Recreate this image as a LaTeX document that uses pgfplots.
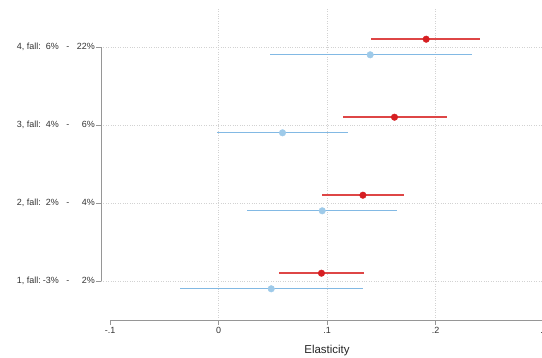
\documentclass[border=0pt]{standalone}
\usepackage{pgfplots}
\pgfplotsset{compat=1.18}
\usepackage{pgfplotstable}
\usepackage{fontspec}
\setmainfont{Liberation Sans}
\definecolor{cred}{RGB}{214,30,34}
\definecolor{credl}{RGB}{222,70,70}
\definecolor{cblue}{RGB}{158,202,233}
\definecolor{cbluel}{RGB}{130,185,228}
\definecolor{axgray}{RGB}{150,150,150}
\definecolor{gridgray}{RGB}{210,210,210}
\pgfplotstableread{
y x lo hi
4.1 0.1914 0.1408 0.2412
3.1 0.1622 0.1143 0.2108
2.1 0.1331 0.0956 0.1711
1.1 0.0949 0.0559 0.1340
}\reddata
\pgfplotstableread{
y x lo hi
3.9 0.1398 0.0473 0.2335
2.9 0.0590 -0.0010 0.1190
1.9 0.0956 0.0267 0.1644
0.9 0.0486 -0.0359 0.1331
}\bluedata
\newcommand{\ylab}[4]{\makebox[0pt][r]{#1\hspace{1bp}}\makebox[17bp][r]{#2}\makebox[18bp][c]{#3}\makebox[18bp][r]{#4}}
\begin{document}
\begin{tikzpicture}
\begin{axis}[
  at={(0,0)}, anchor=south west,
  scale only axis, width=452bp, height=312bp,
  xmin=-0.1083, xmax=0.3083, ymin=0.5, ymax=4.5,
  clip=false,
  axis lines*=left,
  axis line style={draw=none},
  tick align=outside,
  major tick length=4.5bp,
  tick style={axgray, line width=0.7bp},
  xtick={-0.1,0.3},
  xticklabels={-.1,.3},
  extra x ticks={0,0.1,0.2},
  extra x tick labels={0,.1,.2},
  extra x tick style={grid=major},
  ytick={1,2,3,4},
  yticklabels={
    \ylab{1, fall:}{-3\%}{-}{2\%},
    \ylab{2, fall:}{2\%}{-}{4\%},
    \ylab{3, fall:}{4\%}{-}{6\%},
    \ylab{4, fall:}{6\%}{-}{22\%}},
  ymajorgrids=true,
  grid style={gridgray, dotted, line width=0.7bp},
  ticklabel style={font=\fontsize{9}{10.5}\selectfont, text=black!80},
  yticklabel style={inner sep=0pt, xshift=-1.5bp},
  xticklabel style={inner sep=0pt, yshift=-3bp},
  xlabel={Elasticity},
  xlabel style={font=\fontsize{11.5}{13.5}\selectfont, text=black!85, yshift=1bp},
]
\draw[axgray, line width=0.8bp] (axis cs:-0.1,0.5) -- (axis cs:0.3,0.5);
\draw[axgray, line width=0.8bp] (axis cs:-0.1083,1) -- (axis cs:-0.1083,4);
\addplot[only marks, mark=*, mark size=3.3bp, mark options={draw=cblue, fill=cblue},
  error bars/.cd, x dir=both, x explicit, error mark=none,
  error bar style={cbluel, line width=1.3bp}]
  table[x=x, y=y, x error plus expr=\thisrow{hi}-\thisrow{x}, x error minus expr=\thisrow{x}-\thisrow{lo}] {\bluedata};
\addplot[only marks, mark=*, mark size=3.3bp, mark options={draw=cred, fill=cred},
  error bars/.cd, x dir=both, x explicit, error mark=none,
  error bar style={credl, line width=1.8bp}]
  table[x=x, y=y, x error plus expr=\thisrow{hi}-\thisrow{x}, x error minus expr=\thisrow{x}-\thisrow{lo}] {\reddata};
\end{axis}
\pgfresetboundingbox
\path[use as bounding box] (-101bp,-38bp) rectangle (441bp,320bp);
\end{tikzpicture}
\end{document}
